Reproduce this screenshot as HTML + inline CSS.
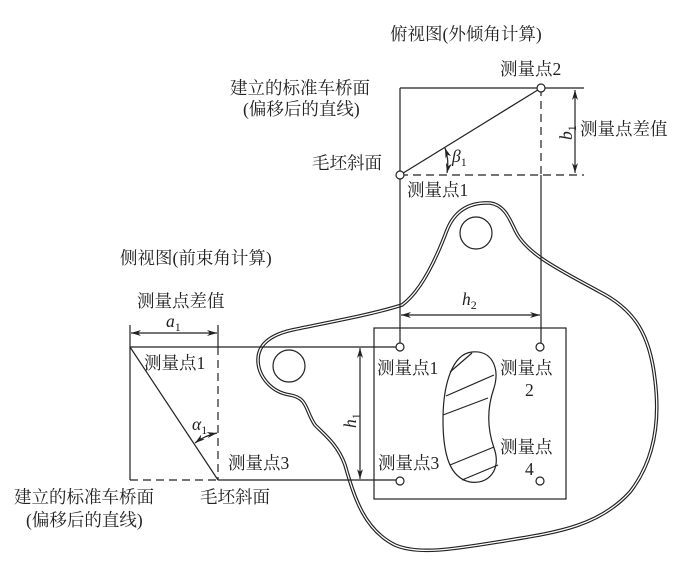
<!DOCTYPE html>
<html><head><meta charset="utf-8"><style>
html,body{margin:0;padding:0;background:#fff}
svg{display:block}
text{font-family:"Liberation Serif","Noto Serif CJK SC","Noto Sans CJK SC",serif;font-size:17.5px;fill:#222}
.i{font-style:italic}
.s{font-style:normal;font-size:12px}
</style></head><body>
<svg width="697" height="572" viewBox="0 0 697 572" xmlns="http://www.w3.org/2000/svg">
<defs>
<marker id="a" viewBox="0 0 10 6" refX="10" refY="3" markerWidth="10" markerHeight="6" orient="auto-start-reverse" markerUnits="userSpaceOnUse"><path d="M0,0 L10,3 L0,6 L3,3 Z" fill="#222"/></marker>
</defs>
<g stroke="#222" fill="none" stroke-width="1.2">
<path d="M402,305 C420,292 435,262 447,230 C455,210 470,202 490,203 C505,205 510,220 516,232 C528,255 560,270 600,292 C635,310 650,335 655,380 C660,420 655,460 630,492 C600,525 560,532 510,540 C460,548 420,556 395,545 C365,530 355,500 345,465 C338,445 325,435 315,425 C305,410 308,398 290,395 C270,392 258,375 258,360 C258,345 270,335 292,330 C330,322 370,315 402,305 Z" stroke-width="3.6"/>
<path d="M402,305 C420,292 435,262 447,230 C455,210 470,202 490,203 C505,205 510,220 516,232 C528,255 560,270 600,292 C635,310 650,335 655,380 C660,420 655,460 630,492 C600,525 560,532 510,540 C460,548 420,556 395,545 C365,530 355,500 345,465 C338,445 325,435 315,425 C305,410 308,398 290,395 C270,392 258,375 258,360 C258,345 270,335 292,330 C330,322 370,315 402,305 Z" stroke="#fff" stroke-width="1.3"/>
<circle cx="476" cy="233" r="16"/>
<circle cx="289" cy="366" r="16"/>
<rect x="374" y="328" width="192" height="171" fill="#fff"/>
<path d="M472,352 C492,350 500,368 494,388 C488,405 486,425 494,448 C502,470 488,485 470,482 C450,478 443,455 443,420 C443,385 452,354 472,352 Z"/>
<path d="M450,372 L472,353 M446,396 L494,375 M443,415 L488,398 M450,465 L494,447 M462,480 L498,465"/>
<path d="M400,88 L584,88"/>
<path d="M400,88 L400,347"/>
<path d="M400,175 L584,175" stroke-dasharray="8,5"/>
<path d="M541,88 L541,175" stroke-dasharray="8,5"/>
<path d="M541,175 L541,346"/>
<path d="M400,175 L541,88"/>
<path d="M575,90 L575,173" marker-start="url(#a)" marker-end="url(#a)"/>
<path d="M445,148 A48,48 0 0 1 447,173" marker-start="url(#a)" marker-end="url(#a)"/>
<path d="M401,315 L540,315" marker-start="url(#a)" marker-end="url(#a)"/>
<path d="M360,348 L360,479" marker-start="url(#a)" marker-end="url(#a)"/>
<path d="M130,347 L400,347"/>
<path d="M218,480 L400,480"/>
<path d="M130,480 L218,480" stroke-dasharray="8,5"/>
<path d="M218,347 L218,480" stroke-dasharray="8,5"/>
<path d="M130,325 L130,480"/>
<path d="M218,325 L218,347"/>
<path d="M130,347 L218,480"/>
<path d="M131,333 L217,333" marker-start="url(#a)" marker-end="url(#a)"/>
<path d="M195,443 A55,55 0 0 1 217,433" marker-start="url(#a)" marker-end="url(#a)"/>
</g>
<g stroke="#222" fill="#fff" stroke-width="1.2">
<circle cx="541" cy="88" r="4"/><circle cx="400" cy="175" r="4"/>
<circle cx="400" cy="347" r="4"/><circle cx="540" cy="347" r="4"/>
<circle cx="400" cy="481" r="4"/><circle cx="540" cy="481" r="4"/>
</g>
<text x="390" y="40">俯视图(外倾角计算)</text>
<text x="500" y="75">测量点2</text>
<text x="230" y="94">建立的标准车桥面</text>
<text x="243" y="115">(偏移后的直线)</text>
<text x="312" y="169">毛坯斜面</text>
<text x="407" y="196">测量点1</text>
<text x="580" y="135">测量点差值</text>
<text class="i" transform="translate(572,140) rotate(-90)">b<tspan class="s" dy="4">1</tspan></text>
<text class="i" x="452" y="162">β<tspan class="s" dy="4">1</tspan></text>
<text x="120" y="264">侧视图(前束角计算)</text>
<text x="137" y="307">测量点差值</text>
<text class="i" x="166" y="327">a<tspan class="s" dy="4">1</tspan></text>
<text x="144" y="369">测量点1</text>
<text class="i" x="192" y="430">α<tspan class="s" dy="4">1</tspan></text>
<text x="228" y="469">测量点3</text>
<text x="14" y="503">建立的标准车桥面</text>
<text x="26" y="526">(偏移后的直线)</text>
<text x="200" y="503">毛坯斜面</text>
<text class="i" x="462" y="305">h<tspan class="s" dy="4">2</tspan></text>
<text class="i" transform="translate(356,428) rotate(-90)">h<tspan class="s" dy="4">1</tspan></text>
<text x="377" y="374">测量点1</text>
<text x="500" y="374">测量点</text>
<text x="525" y="396">2</text>
<text x="378" y="469">测量点3</text>
<text x="500" y="453">测量点</text>
<text x="525" y="475">4</text>
</svg>
</body></html>
